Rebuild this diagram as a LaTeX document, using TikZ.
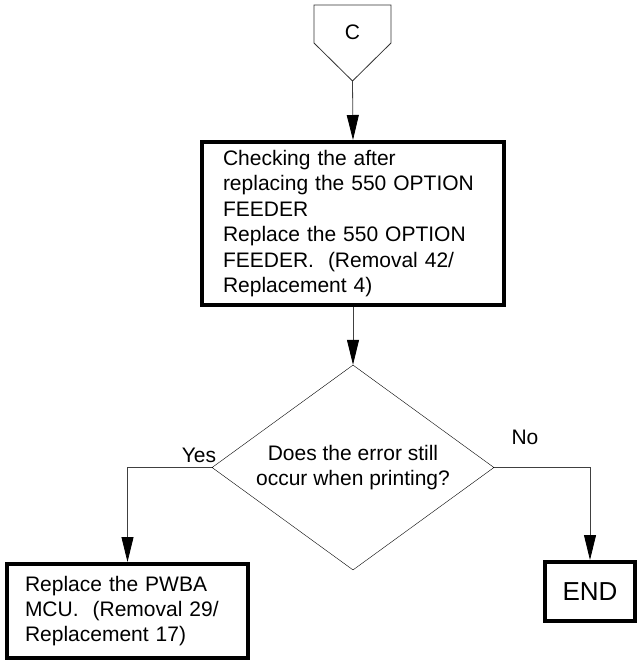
\documentclass[tikz,border=0pt]{standalone}
\usepackage{fontspec}
\setmainfont{Liberation Sans}
\usetikzlibrary{arrows.meta,positioning,shapes.geometric}

\begin{document}
\begin{tikzpicture}[
  x=1pt, y=-1pt,
  font=\fontsize{21}{25.4}\selectfont,
  actbox/.style={
    draw,
    line width=4pt,
    align=left,
    inner ysep=0pt
  },
  decision/.style={
    draw,
    diamond,
    align=center,
    inner sep=0pt,
    aspect=1.376,
    minimum width=282pt,
    minimum height=205pt
  },
  flow/.style={-{Triangle[length=25pt,width=12pt,color=black]}, draw=black!75, line width=0.8pt}
]
\useasboundingbox (0,0) rectangle (639,664);

% off-page connector
\node (tab) at (352.5,32) {C};
\coordinate (tabtip) at (352.5,81);
\draw[black!80, line width=0.8pt] (314,5) -- (391,5) -- (391,43) -- (tabtip) -- (314,43) -- cycle;

\node[actbox, text width=260pt, inner xsep=21pt, minimum height=163pt] (check) at (353,223.5)
  {Checking the after\\replacing the 550 OPTION\\FEEDER\\Replace the 550 OPTION\\FEEDER.\ \ (Removal 42/\\Replacement 4)};
\node[decision] (ask) at (353,467.5) {Does the error still\\occur when printing?};
\node[actbox, text width=205pt, inner xsep=18pt, minimum height=94pt] (pwba) at (127.5,611)
  {Replace the PWBA\\MCU.\ \ (Removal 29/\\Replacement 17)};
\node[actbox, align=center, inner sep=0pt, minimum width=90pt, minimum height=59pt,
      font=\fontsize{26}{30}\selectfont] (fin) at (590,591.5) {END};
\node (yes) at (199,455) {Yes};
\node (no) at (525,437) {No};

\draw[flow] (tabtip) -- (check.north);
\draw[flow] (check.south) -- (ask.north);
\draw[flow] (ask.west) -| (pwba.north);
\draw[flow] (ask.east) -| (fin.north);
\end{tikzpicture}
\end{document}
